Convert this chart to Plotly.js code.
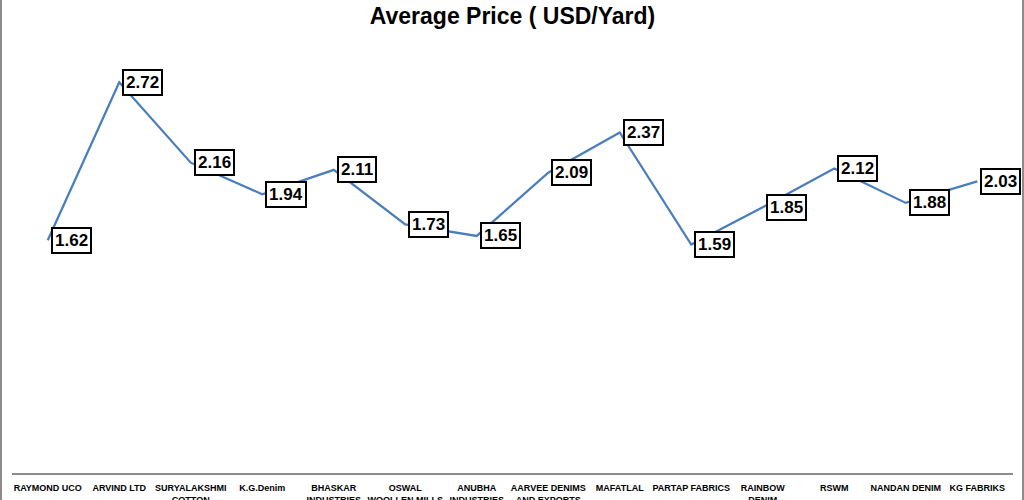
<!DOCTYPE html>
<html><head><meta charset="utf-8">
<script src="https://cdn.plot.ly/plotly-3.0.1.min.js"></script>
<style>
html,body{margin:0;padding:0;background:#fff;overflow:hidden}
#wrap{position:absolute;left:0;top:0;width:1020px;height:500px;border-left:2px solid #8c8c8c;border-right:2px solid #8c8c8c;}
#chart{position:absolute;left:0;top:0;width:1024px;height:500px}
</style></head>
<body>
<div id="chart"></div>
<div id="wrap"></div>
<script>
const categories = ["RAYMOND UCO","ARVIND LTD","SURYALAKSHMI<br>COTTON","K.G.Denim","BHASKAR<br>INDUSTRIES","OSWAL<br>WOOLLEN MILLS","ANUBHA<br>INDUSTRIES","AARVEE DENIMS<br>AND EXPORTS","MAFATLAL","PARTAP FABRICS","RAINBOW<br>DENIM","RSWM","NANDAN DENIM","KG FABRIKS"];
const prices = [1.62,2.72,2.16,1.94,2.11,1.73,1.65,2.09,2.37,1.59,1.85,2.12,1.88,2.03];

const trace = {
  x: categories, y: prices, type: 'scatter', mode: 'lines',
  line: {color: '#4A7EBB', width: 2.25}, hoverinfo: 'skip'
};
const annotations = categories.map((c,i)=>({
  x: c, y: prices[i], xref:'x', yref:'y', text: prices[i].toFixed(2),
  showarrow:false, xanchor:'left', yanchor:'middle', xshift:3,
  font:{family:'Liberation Sans, Arial, sans-serif', size:17, color:'#000', weight:'bold'},
  bgcolor:'#fff', bordercolor:'#000', borderwidth:2, borderpad:2
}));
const layout = {
  width:1024, height:500,
  margin:{l:12, r:11, t:42, b:27},
  paper_bgcolor:'#fff', plot_bgcolor:'#fff',
  title:{text:'Average Price ( USD/Yard)', x:0.5, xanchor:'center', xref:'paper', y:0.968, yanchor:'middle', yref:'container',
    font:{family:'Liberation Sans, Arial, sans-serif', size:23, color:'#000', weight:'bold'}},
  xaxis:{type:'category', range:[-0.5, categories.length-0.5], showgrid:false, zeroline:false, showline:true, linecolor:'#8c8c8c', linewidth:2,
    ticks:'', automargin:false, tickangle:0, ticklabelstandoff:5,
    tickfont:{family:'Liberation Sans, Arial, sans-serif', size:9, color:'#000', weight:'bold'}},
  yaxis:{range:[0,3], visible:false, showgrid:false, zeroline:false, fixedrange:true},
  showlegend:false, annotations: annotations
};
Plotly.newPlot('chart',[trace],layout,{displayModeBar:false, staticPlot:true});
</script>
</body></html>
